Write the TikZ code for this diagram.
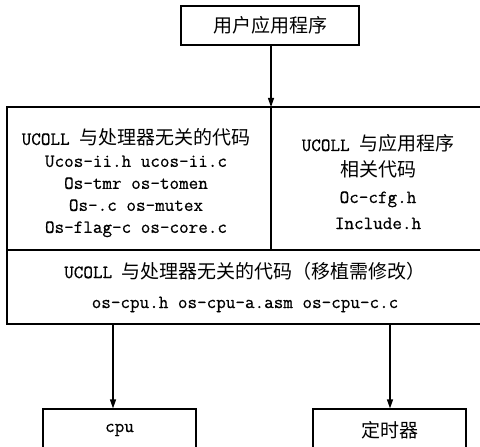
\documentclass[tikz,border=0pt]{standalone}
\usepackage{fontspec}
\setmonofont[FakeBold=0.6]{Latin Modern Mono}
\newfontfamily\cjk{Noto Sans CJK SC}
\usetikzlibrary{arrows.meta}
\newcommand\zh[1]{{\fontsize{19bp}{22bp}\selectfont\cjk #1}}
\begin{document}
\begin{tikzpicture}[x=1bp,y=-1bp,
  box/.style={draw,line width=1.2bp,inner sep=0pt},
  arr/.style={line width=1.2bp,-{Triangle[length=9bp,width=6bp]}},
  txt/.style={align=center,inner sep=0pt}]
\useasboundingbox (0,0) rectangle (480,447);
\node[box,minimum width=178bp,minimum height=39bp] (top) at (270,25.5) {\zh{用户应用程序}};
\node[box,minimum width=474bp,minimum height=217bp] (main) at (244,215.5) {};
\coordinate (dtop) at (271,107);
\coordinate (dmid) at (271,250);
\coordinate (hl) at (7,250);
\coordinate (hr) at (481,250);
\draw[line width=1.2bp] (dtop) -- (dmid);
\draw[line width=1.2bp] (hl) -- (hr);
\node[txt,font=\ttfamily\fontsize{18.6bp}{22bp}\selectfont] (left) at (136,183)
  {UCOLL \zh{与处理器无关的代码}\\Ucos-ii.h ucos-ii.c\\Os-tmr os-tomen\\Os-.c os-mutex\\Os-flag-c os-core.c};
\node[txt,font=\ttfamily\fontsize{18.6bp}{26bp}\selectfont] (right) at (378,182)
  {UCOLL \zh{与应用程序}\\\zh{相关代码}\\Oc-cfg.h\\Include.h};
\node[txt,font=\ttfamily\fontsize{18.6bp}{30bp}\selectfont] (bottom) at (245,287)
  {UCOLL \zh{与处理器无关的代码（移植需修改）}\\os-cpu.h os-cpu-a.asm os-cpu-c.c};
\node[box,minimum width=153bp,minimum height=42bp,font=\ttfamily\fontsize{18.6bp}{20bp}\selectfont] (cpu) at (119.5,430) {cpu};
\node[box,minimum width=153bp,minimum height=42bp] (timer) at (389.5,430) {\zh{定时器}};
\draw[arr] (top.south -| dtop) -- (dtop);
\coordinate (a1) at (113,324);
\coordinate (a2) at (390,324);
\draw[arr] (a1) -- (a1 |- cpu.north);
\draw[arr] (a2) -- (a2 |- timer.north);
\end{tikzpicture}
\end{document}
